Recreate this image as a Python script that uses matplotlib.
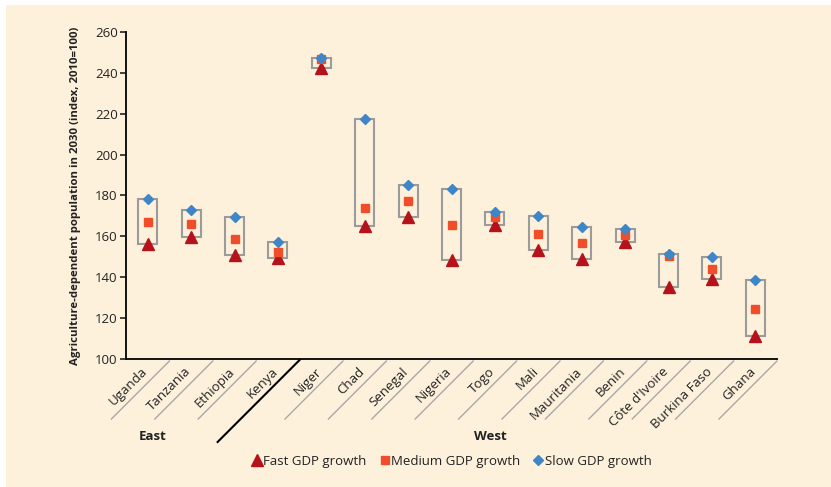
import matplotlib.pyplot as plt
import matplotlib.transforms as mtransforms
from matplotlib.lines import Line2D
from matplotlib.patches import Rectangle
import numpy as np

plt.rcParams['font.family'] = ['Open Sans', 'DejaVu Sans']

countries = ['Uganda', 'Tanzania', 'Ethiopia', 'Kenya', 'Niger', 'Chad', 'Senegal',
             'Nigeria', 'Togo', 'Mali', 'Mauritania', 'Benin', "Côte d'Ivoire",
             'Burkina Faso', 'Ghana']
fast = [156.5, 159.5, 150.8, 149.2, 242.2, 165.1, 169.5, 148.3, 165.8, 153.2,
        148.8, 157.2, 135.3, 139.2, 111.1]
medium = [167.0, 166.0, 158.7, 152.5, 247.0, 174.0, 177.4, 165.7, 169.3, 161.3,
          156.7, 160.8, 150.4, 144.2, 124.5]
slow = [178.1, 172.7, 169.3, 157.2, 247.4, 217.2, 185.1, 183.3, 171.8, 169.8,
        164.7, 163.6, 151.4, 149.7, 138.8]
n_east = 4
yticks = [100, 120, 140, 160, 180, 200, 220, 240, 260]

bg = '#fef1dc'
fig = plt.figure(figsize=(8.31, 4.87), dpi=100)
fig.patch.set_facecolor('white')
fig.add_artist(Rectangle((6 / 831, 0), 1, 1 - 5 / 487, transform=fig.transFigure,
                         facecolor=bg, edgecolor='none', zorder=0))

ax = fig.add_axes([126 / 831, 1 - 359 / 487, 651 / 831, 327 / 487])
ax.set_facecolor('none')
x = np.arange(len(countries))
ax.set_xlim(-0.5, len(countries) - 0.5)
ax.set_ylim(100, 260)

# boxes from min to max
bw = 0.44
for i in x:
    lo = min(fast[i], medium[i], slow[i])
    hi = max(fast[i], medium[i], slow[i])
    ax.add_patch(Rectangle((i - bw / 2, lo), bw, hi - lo, facecolor='none',
                           edgecolor='#9b9b9b', lw=1.5, zorder=2))

ax.plot(x, fast, ls='none', marker='^', ms=9, color='#b5121b', zorder=3)
ax.plot(x, medium, ls='none', marker='s', ms=6.2, color='#f04e2b', zorder=4)
ax.plot(x, slow, ls='none', marker='D', ms=5.5, color='#3f86c8', zorder=5)

for s in ['top', 'right']:
    ax.spines[s].set_visible(False)
for s in ['left', 'bottom']:
    ax.spines[s].set_linewidth(1.4)
    ax.spines[s].set_color('#111111')
ax.set_yticks(yticks)
ax.tick_params(axis='y', direction='out', length=4, width=1.2, labelsize=9.5,
               colors='#222222', pad=2)
ax.set_xticks([])
ax.set_ylabel('Agriculture-dependent population in 2030 (index, 2010=100)',
              fontsize=8.2, fontweight='bold', color='#222222', labelpad=10)

for i, name in enumerate(countries):
    ax.annotate(name, (i, 100), xytext=(-1.4, -7.6), textcoords='offset points',
                rotation=45, ha='right', va='center', rotation_mode='anchor',
                fontsize=9.5, color='#222222', annotation_clip=False)

# slanted separators below the axis
fig.canvas.draw()
for b in range(1, len(countries) + 1):
    px, py = ax.transData.transform((b - 0.5, 100))
    if b == n_east:
        seg = ([px, px - 82], [py - 1, py - 83])
        fig.add_artist(Line2D(*seg, transform=mtransforms.IdentityTransform(),
                              color='black', lw=1.5))
    else:
        seg = ([px, px - 58], [py - 2, py - 60])
        fig.add_artist(Line2D(*seg, transform=mtransforms.IdentityTransform(),
                              color='#a8a8a8', lw=1.0))

grp = mtransforms.blended_transform_factory(ax.transData, ax.transAxes)
ax.text(0.12, -0.238, 'East', transform=grp, ha='center', va='center',
        fontsize=9.5, fontweight='bold', color='#222222')
ax.text(7.9, -0.238, 'West', transform=grp, ha='center', va='center',
        fontsize=9.5, fontweight='bold', color='#222222')

handles = [
    Line2D([], [], ls='none', marker='^', ms=9, color='#b5121b'),
    Line2D([], [], ls='none', marker='s', ms=6.2, color='#f04e2b'),
    Line2D([], [], ls='none', marker='D', ms=5.5, color='#3f86c8'),
]
fig.legend(handles, ['Fast GDP growth', 'Medium GDP growth', 'Slow GDP growth'],
           loc='center', bbox_to_anchor=(452 / 831, 1 - 461 / 487), ncol=3,
           frameon=False, fontsize=9.5, handlelength=0.7, handletextpad=0.15,
           columnspacing=1.0, labelcolor='#222222')

fig.savefig('out.png', dpi=100, facecolor='white')
